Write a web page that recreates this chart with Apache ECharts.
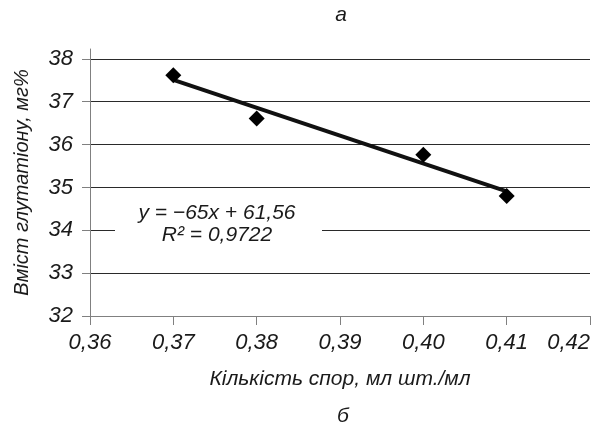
<!DOCTYPE html>
<html>
<head>
<meta charset="utf-8">
<script src="https://cdn.jsdelivr.net/npm/echarts@6/dist/echarts.min.js"></script>
<style>
html,body{margin:0;padding:0;background:#fff;}
#c{width:606px;height:428px;}
</style>
</head>
<body>
<div id="c"></div>
<script>
// Data
var sporesX = [0.37, 0.38, 0.40, 0.41];
var glutathioneY = [37.62, 36.61, 35.76, 34.80];
var trendX = [0.37, 0.41];
var trendY = [37.51, 34.91];
var yTicks = [32, 33, 34, 35, 36, 37, 38];
var xTicks = [0.36, 0.37, 0.38, 0.39, 0.40, 0.41, 0.42];
var equationLines = ['y = \u221265x + 61,56', 'R\u00B2 = 0,9722'];
var topCaption = 'а';
var bottomCaption = 'б';
var xName = 'Кількість спор, мл шт./мл';
var yName = 'Вміст глутатіону, мг%';

var FONT = '"Liberation Sans", Arial, sans-serif';
var chart = echarts.init(document.getElementById('c'), null, {renderer: 'canvas'});

var points = sporesX.map(function (x, i) { return [x, glutathioneY[i]]; });
var trend = trendX.map(function (x, i) { return [x, trendY[i]]; });

chart.setOption({
  backgroundColor: '#fff',
  animation: false,
  title: [
    {text: topCaption, left: 336, top: 0, textAlign: 'center',
     textStyle: {fontFamily: FONT, fontStyle: 'italic', fontWeight: 'normal', fontSize: 21, color: '#1a1a1a'}},
    {text: bottomCaption, left: 338, top: 401, textAlign: 'center',
     textStyle: {fontFamily: FONT, fontStyle: 'italic', fontWeight: 'normal', fontSize: 21, color: '#1a1a1a'}}
  ],
  grid: {left: 90, right: 16, top: 49, bottom: 112, containLabel: false, outerBoundsMode: 'none'},
  xAxis: {
    type: 'value', min: 0.36, max: 0.42, interval: 0.01,
    name: xName, nameLocation: 'middle', nameGap: 53,
    nameTextStyle: {fontFamily: FONT, fontStyle: 'italic', fontSize: 21, color: '#1a1a1a'},
    axisLine: {show: true, onZero: false, lineStyle: {color: '#808080', width: 1}},
    axisTick: {show: true, inside: false, length: 9, customValues: xTicks, lineStyle: {color: '#808080'}},
    axisLabel: {margin: 16, fontFamily: FONT, fontStyle: 'italic', fontSize: 22, color: '#1a1a1a',
      customValues: xTicks, alignMaxLabel: 'right',
      formatter: function (v) { return v.toFixed(2).replace('.', ','); }},
    splitLine: {show: false}
  },
  yAxis: {
    type: 'value', min: 32, max: 38.23,
    name: yName, nameLocation: 'middle', nameGap: 58, nameRotate: 90,
    nameTextStyle: {fontFamily: FONT, fontStyle: 'italic', fontSize: 20, color: '#1a1a1a'},
    axisLine: {show: true, onZero: false, lineStyle: {color: '#808080', width: 1}},
    axisTick: {show: true, inside: false, length: 8, customValues: yTicks, lineStyle: {color: '#808080'}},
    axisLabel: {margin: 17, fontFamily: FONT, fontStyle: 'italic', fontSize: 22, color: '#1a1a1a',
      customValues: yTicks,
      formatter: function (v) { return String(v); }},
    splitLine: {show: true, showMinLine: false, lineStyle: {color: '#2a2a2a', width: 1}}
  },
  series: [
    {type: 'line', data: trend, symbol: 'none', z: 3,
     lineStyle: {color: '#111', width: 4}, silent: true},
    {type: 'scatter', data: points, symbol: 'diamond', symbolSize: 16, z: 4,
     itemStyle: {color: '#000', opacity: 1}}
  ],
  graphic: [
    {type: 'rect', shape: {x: 115, y: 205, width: 207, height: 42}, z: 100,
     style: {fill: '#fff'}},
    {type: 'text', x: 217, y: 203, z: 101,
     style: {text: equationLines[0], fill: '#1a1a1a', font: 'italic 21px ' + FONT, align: 'center', verticalAlign: 'top'}},
    {type: 'text', x: 217, y: 225, z: 101,
     style: {text: equationLines[1], fill: '#1a1a1a', font: 'italic 21px ' + FONT, align: 'center', verticalAlign: 'top'}}
  ]
});
</script>
</body>
</html>
